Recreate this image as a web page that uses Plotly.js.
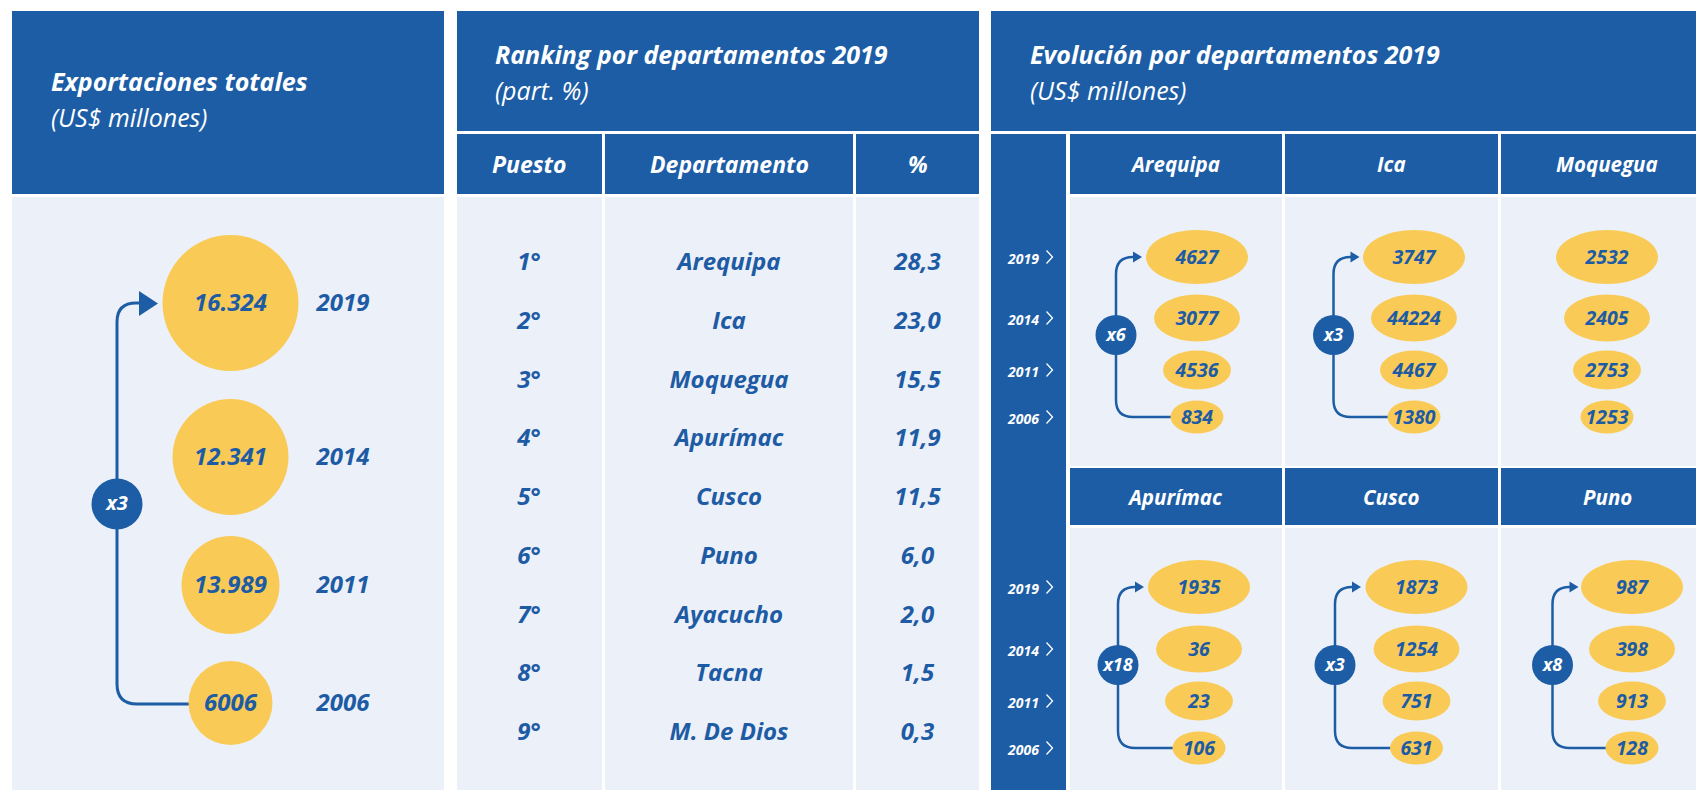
<!DOCTYPE html>
<html><head><meta charset="utf-8">
<script src="https://cdn.plot.ly/plotly-3.0.1.min.js"></script>
<style>html,body{margin:0;padding:0;background:#fff;}#chart{width:1696px;height:790px;}</style>
</head><body><div id="chart"></div>
<script>
// ---------------- DATA ----------------
const totalYears = ['2019', '2014', '2011', '2006'];
const totalExports = [16324, 12341, 13989, 6006];
const totalGrowth = 'x3';

const rankPositions = ['1°', '2°', '3°', '4°', '5°', '6°', '7°', '8°', '9°'];
const rankDepts = ['Arequipa', 'Ica', 'Moquegua', 'Apurímac', 'Cusco', 'Puno', 'Ayacucho', 'Tacna', 'M. De Dios'];
const rankShares = [28.3, 23.0, 15.5, 11.9, 11.5, 6.0, 2.0, 1.5, 0.3];

const evoDepts = ['Arequipa', 'Ica', 'Moquegua', 'Apurímac', 'Cusco', 'Puno'];
const evoYears = ['2019', '2014', '2011', '2006'];
const evo2019 = [4627, 3747, 2532, 1935, 1873, 987];
const evo2014 = [3077, 44224, 2405, 36, 1254, 398];
const evo2011 = [4536, 4467, 2753, 23, 751, 913];
const evo2006 = [834, 1380, 1253, 106, 631, 128];
const evoGrowth = ['x6', 'x3', null, 'x18', 'x3', 'x8'];

// ---------------- STYLE / LAYOUT ----------------
const W = 1696, H = 790;
const BLUE = '#1C5DA6', LIGHT = '#ECF0F8', YEL = '#F9CB56', TXT = '#1D5BA5', WHITE = '#FFFFFF';
const FONT = 'Open Sans, Noto Sans, sans-serif';
const TY = 2; // text baseline nudge

const fmtTotal = v => v >= 10000 ? String(v).replace(/(\d)(?=(\d{3})+$)/g, '$1.') : String(v);
const fmtShare = v => v.toFixed(1).replace('.', ',');

const shapes = [];
const annotations = [];
const traces = [];

function rect(x0, y0, x1, y1, color) {
  shapes.push({type: 'rect', xref: 'x', yref: 'y', x0, y0, x1, y1, fillcolor: color, line: {width: 0}, layer: 'below'});
}
function ellipse(cx, cy, w, h, color) {
  shapes.push({type: 'circle', xref: 'x', yref: 'y', x0: cx - w / 2, x1: cx + w / 2, y0: cy - h / 2, y1: cy + h / 2,
    fillcolor: color, line: {width: 0}, layer: 'below'});
}
function path(d, lineColor, lw, fill) {
  shapes.push({type: 'path', xref: 'x', yref: 'y', path: d, line: {color: lineColor, width: lw},
    fillcolor: fill || 'rgba(0,0,0,0)', layer: 'below'});
}
function label(x, y, text, size, color, opts) {
  opts = opts || {};
  annotations.push({x, y, xref: 'x', yref: 'y', text, showarrow: false,
    xanchor: opts.xanchor || 'center', yanchor: 'middle',
    font: {family: FONT, size, color, weight: opts.weight || 700, style: 'italic'}});
}
function textTrace(xs, ys, texts, size, color) {
  traces.push({type: 'scatter', mode: 'text', x: xs, y: ys.map(y => y + TY), text: texts, textposition: 'middle center',
    hoverinfo: 'skip', showlegend: false,
    textfont: {family: FONT, size, color, weight: 700, style: 'italic'}});
}

// ---- Panel 1: Exportaciones totales ----
rect(12, 11, 444, 194, BLUE);
rect(12, 197, 444, 790, LIGHT);
label(49, 81, 'Exportaciones totales', 25, WHITE, {xanchor: 'left'});
label(49, 117, '(US$ millones)', 25, WHITE, {xanchor: 'left', weight: 400});

const p1Y = [303, 457, 585, 703];
const p1R = [68, 58, 49, 42];
const p1X = 230.5;
// connector arrow
path('M 190 704 L 137 704 Q 117 704 117 684 L 117 322 Q 117 303 136 303 L 142 303', BLUE, 3);
path('M 139 291 L 158 303.5 L 139 316 Z', BLUE, 0, BLUE);
ellipse(117, 504, 51, 51, BLUE);

traces.push({type: 'scatter', mode: 'markers', x: totalYears.map(() => p1X), y: p1Y,
  marker: {size: p1R.map(r => 2 * r), color: YEL, opacity: 1, line: {width: 0}},
  hoverinfo: 'skip', showlegend: false});
textTrace(totalYears.map(() => p1X), p1Y, totalExports.map(fmtTotal), 24, TXT);
textTrace(totalYears.map(() => 343), p1Y, totalYears, 24, TXT);
textTrace([117], [503], [totalGrowth], 20, WHITE);

// ---- Panel 2: Ranking ----
rect(457, 11, 979, 131, BLUE);
label(493, 54, 'Ranking por departamentos 2019', 25, WHITE, {xanchor: 'left'});
label(493, 90, '(part. %)', 25, WHITE, {xanchor: 'left', weight: 400});
const p2Cols = [[457, 602], [605, 853], [856, 979]];
const p2Heads = ['Puesto', 'Departamento', '%'];
p2Cols.forEach((c, i) => {
  rect(c[0], 134, c[1], 194, BLUE);
  rect(c[0], 197, c[1], 790, LIGHT);
  label((c[0] + c[1]) / 2, 164, p2Heads[i], 23, WHITE);
});
const p2RowY = rankDepts.map((d, i) => 262 + i * 58.75);
textTrace(rankPositions.map(() => 529), p2RowY, rankPositions, 24, TXT);
textTrace(rankDepts.map(() => 729), p2RowY, rankDepts, 24, TXT);
textTrace(rankShares.map(() => 917.5), p2RowY, rankShares.map(fmtShare), 24, TXT);

// ---- Panel 3: Evolución ----
rect(991, 11, 1696, 131, BLUE);
label(1028, 54, 'Evolución por departamentos 2019', 25, WHITE, {xanchor: 'left'});
label(1028, 90, '(US$ millones)', 25, WHITE, {xanchor: 'left', weight: 400});
rect(991, 134, 1066, 790, BLUE);
const p3Cols = [[1070, 1282], [1285, 1498], [1501, 1696]];
const p3Rows = [{h: [134, 194], b: [197, 466]}, {h: [468, 525], b: [528, 790]}];
p3Rows.forEach(r => p3Cols.forEach(c => {
  rect(c[0], r.h[0], c[1], r.h[1], BLUE);
  rect(c[0], r.b[0], c[1], r.b[1], LIGHT);
}));
const p3HeadX = [1175, 1391, 1607];
const p3RowYear = [[257, 318, 370, 417], [587, 649, 701, 748]];
const p3Cx = [1197, 1414, 1607, 1199, 1416.5, 1632];
const p3LineX = [1116, 1333.5, null, 1118, 1335, 1552.5];
const ellW = [102, 86, 68, 53], ellH = [54, 47, 39, 33];
const evoSeries = [evo2019, evo2014, evo2011, evo2006];

// year labels + chevrons
p3RowYear.forEach(ys => ys.forEach((y, k) => {
  label(1041, y + 1, evoYears[k], 14, WHITE, {xanchor: 'right'});
  path(`M 1046.5 ${y - 6.5} L 1052.5 ${y} L 1046.5 ${y + 6.5}`, WHITE, 1.3);
}));

evoDepts.forEach((d, i) => {
  const row = Math.floor(i / 3), col = i % 3;
  const hy = (p3Rows[row].h[0] + p3Rows[row].h[1]) / 2;
  label(p3HeadX[col], hy, d, 20.5, WHITE);
  const ys = p3RowYear[row];
  const cx = p3Cx[i];
  const Lx = p3LineX[i];
  if (evoGrowth[i]) {
    const yt = ys[0], yb = ys[3], r = 17;
    const xl = cx - ellW[3] / 2 + 3;
    path(`M ${xl} ${yb} L ${Lx + r} ${yb} Q ${Lx} ${yb} ${Lx} ${yb - r} L ${Lx} ${yt + r} Q ${Lx} ${yt} ${Lx + r} ${yt} L ${Lx + 19} ${yt}`, BLUE, 2.5);
    path(`M ${Lx + 17} ${yt - 5.5} L ${Lx + 26} ${yt} L ${Lx + 17} ${yt + 5.5} Z`, BLUE, 0, BLUE);
    const by = row === 0 ? 335 : 665;
    ellipse(Lx, by, 41, 40, BLUE);
  }
  evoSeries.forEach((s, k) => ellipse(cx, ys[k], ellW[k], ellH[k], YEL));
});
// value labels (one trace per year)
evoSeries.forEach((s, k) => {
  textTrace(evoDepts.map((d, i) => p3Cx[i]), evoDepts.map((d, i) => p3RowYear[Math.floor(i / 3)][k]),
    s.map(String), 19.5, TXT);
});
// growth badges text
const gIdx = evoDepts.map((d, i) => i).filter(i => evoGrowth[i]);
textTrace(gIdx.map(i => p3LineX[i]), gIdx.map(i => (Math.floor(i / 3) === 0 ? 334 : 664)), gIdx.map(i => evoGrowth[i]), 18, WHITE);

const layout = {
  width: W, height: H, margin: {l: 0, r: 0, t: 0, b: 0},
  paper_bgcolor: WHITE, plot_bgcolor: WHITE,
  xaxis: {range: [0, W], visible: false, fixedrange: true},
  yaxis: {range: [H, 0], visible: false, fixedrange: true},
  shapes, annotations, showlegend: false, hovermode: false
};
Plotly.newPlot('chart', traces, layout, {staticPlot: true, displayModeBar: false});
</script></body></html>
